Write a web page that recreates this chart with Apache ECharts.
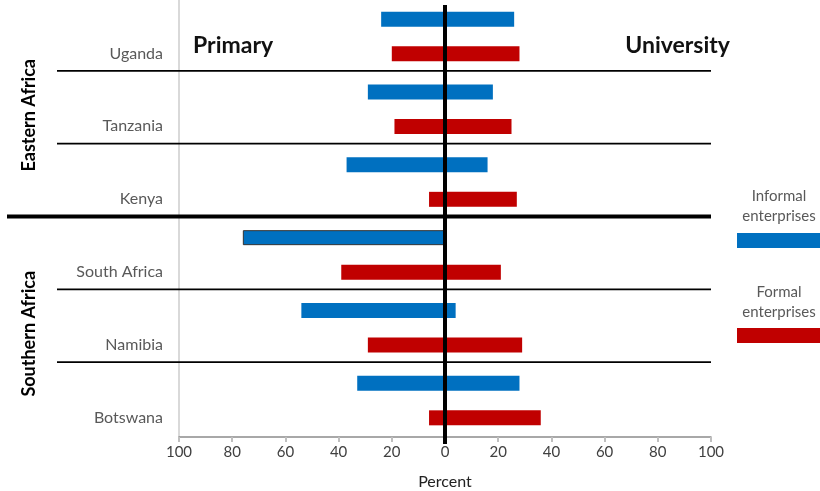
<!DOCTYPE html>
<html><head><meta charset="utf-8">
<script src="https://cdn.jsdelivr.net/npm/echarts@6/dist/echarts.min.js"></script>
<style>html,body{margin:0;padding:0;background:#fff}#c{width:820px;height:491px}</style>
</head><body><div id="c"></div>
<script>
const countries = ['Uganda','Tanzania','Kenya','South Africa','Namibia','Botswana'];
const regions = ['Eastern Africa','Southern Africa'];
const regionFirst = [0,3];
const regionLast = [2,5];
const informalPrimary = [24,29,37,76,54,33];
const informalUniversity = [26,18,16,0,4,28];
const formalPrimary = [20,19,6,39,29,6];
const formalUniversity = [28,25,27,21,29,36];
const seriesNames = ['Informal enterprises','Formal enterprises'];
const sideLabels = ['Primary','University'];

const BLUE = '#0070C0', RED = '#C00000';
const FONT = 'Lato';
const chart = echarts.init(document.getElementById('c'));
const barBase = {type:'bar', barWidth:15, barGap:'130%', silent:true};
chart.setOption({
  animation:false,
  textStyle:{fontFamily:FONT},
  grid:{left:179, right:109, top:0, bottom:54, containLabel:false, outerBoundsMode:'none'},
  legend:{
    data:seriesNames, orient:'vertical', left:737, top:233, itemWidth:83, itemHeight:15,
    icon:'rect', itemGap:80, formatter:()=>'', selectedMode:false, padding:0, textStyle:{fontSize:1}
  },
  xAxis:{
    type:'value', min:-100, max:100, interval:20,
    axisLine:{show:true, lineStyle:{color:'#8c8c8c', width:1.5}},
    axisTick:{show:true, length:5, lineStyle:{color:'#bfbfbf', width:2}},
    axisLabel:{formatter:v=>Math.abs(v), color:'#404040', fontSize:15, margin:8},
    splitLine:{show:false},
    name:'Percent', nameLocation:'middle', nameGap:37,
    nameTextStyle:{color:'#222', fontSize:16}
  },
  yAxis:{
    type:'category', data:countries, inverse:true,
    axisLine:{show:true, onZero:false, lineStyle:{color:'#d9d9d9', width:2}},
    axisTick:{show:false},
    axisLabel:{color:'#595959', fontSize:16, margin:16, lineHeight:34, formatter:v=>'\n'+v}
  },
  series:[
    Object.assign({}, barBase, {name:seriesNames[0], stack:'inf', itemStyle:{color:BLUE},
      data:informalPrimary.map((v,i)=> i===3 ? {value:-v, itemStyle:{borderColor:'#333', borderWidth:1}} : -v)}),
    Object.assign({}, barBase, {name:seriesNames[0], stack:'inf', itemStyle:{color:BLUE}, data:informalUniversity}),
    Object.assign({}, barBase, {name:seriesNames[1], stack:'for', itemStyle:{color:RED}, data:formalPrimary.map(v=>-v)}),
    Object.assign({}, barBase, {name:seriesNames[1], stack:'for', itemStyle:{color:RED}, data:formalUniversity})
  ]
});

// decorations positioned through the chart's own scales
const yc = countries.map((c,i)=>chart.convertToPixel({yAxisIndex:0}, i));
const x0 = chart.convertToPixel({xAxisIndex:0}, 0);
const xMax = chart.convertToPixel({xAxisIndex:0}, 100);
const xMin = chart.convertToPixel({xAxisIndex:0}, -100);
const band = yc[1]-yc[0];
const els = [];
for (let i=0;i<countries.length-1;i++){
  const y = (yc[i]+yc[i+1])/2 - 2;
  const isRegion = regionFirst.includes(i+1);
  els.push({type:'line', z:50, shape:{x1:isRegion?7:57, y1:y, x2:xMax, y2:y},
    style:{stroke:'#000', lineWidth:isRegion?4:1.6}});
}
els.push({type:'line', z:60, shape:{x1:x0, y1:yc[0]-band/2+5, x2:x0, y2:yc[5]+band/2+7},
  style:{stroke:'#000', lineWidth:4}});
regions.forEach((r,k)=>{
  const yMid = (yc[regionFirst[k]] + yc[regionLast[k]])/2 + 6;
  els.push({type:'text', z:50, x:29, y:yMid, rotation:Math.PI/2,
    style:{text:r, fill:'#000', font:'bold 18px '+FONT, align:'center', verticalAlign:'middle'}});
});
els.push({type:'text', z:50, x:xMin+14, y:yc[0]+9,
  style:{text:sideLabels[0], fill:'#111', font:'bold 23px '+FONT, align:'left', verticalAlign:'middle'}});
els.push({type:'text', z:50, x:xMax+19, y:yc[0]+9,
  style:{text:sideLabels[1], fill:'#111', font:'bold 23px '+FONT, align:'right', verticalAlign:'middle'}});
const legendText = [['Informal','enterprises'],['Formal','enterprises']];
legendText.forEach((t,k)=>{
  const base = 196 + k*96;
  els.push({type:'text', z:50, x:779, y:base, style:{text:t[0], fill:'#595959', font:'15px '+FONT, align:'center', verticalAlign:'middle'}});
  els.push({type:'text', z:50, x:779, y:base+20, style:{text:t[1], fill:'#595959', font:'15px '+FONT, align:'center', verticalAlign:'middle'}});
});
chart.setOption({graphic:{elements:els}});
</script></body></html>
